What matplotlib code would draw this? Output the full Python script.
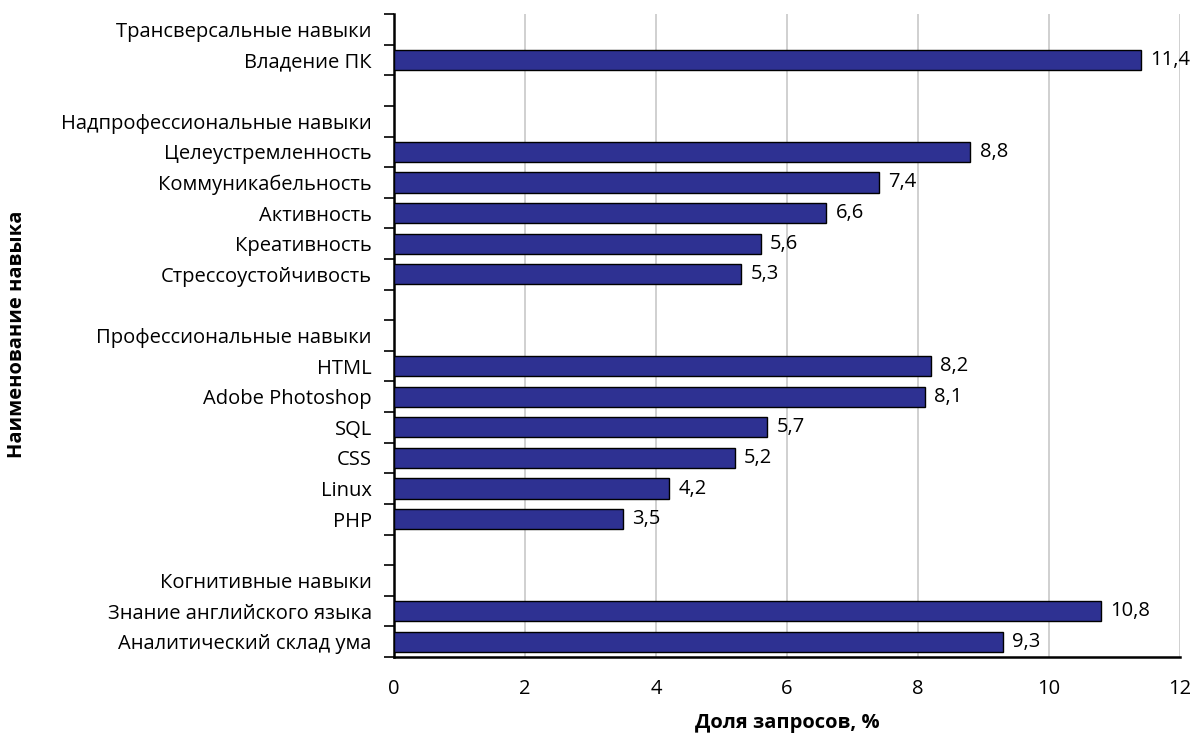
import matplotlib
matplotlib.use("Agg")
import matplotlib.pyplot as plt
import numpy as np

plt.rcParams['font.family'] = ['Open Sans', 'DejaVu Sans']

# rows from top to bottom; None marks a group header or spacer row
labels = [
    "Трансверсальные навыки", "Владение ПК", "",
    "Надпрофессиональные навыки", "Целеустремленность", "Коммуникабельность",
    "Активность", "Креативность", "Стрессоустойчивость", "",
    "Профессиональные навыки", "HTML", "Adobe Photoshop", "SQL", "CSS",
    "Linux", "PHP", "",
    "Когнитивные навыки", "Знание английского языка", "Аналитический склад ума",
]
values = [
    None, 11.4, None,
    None, 8.8, 7.4, 6.6, 5.6, 5.3, None,
    None, 8.2, 8.1, 5.7, 5.2, 4.2, 3.5, None,
    None, 10.8, 9.3,
]
xticks = [0, 2, 4, 6, 8, 10, 12]

fs = 14.5

fig = plt.figure(figsize=(11.92, 7.39), dpi=100)
ax = fig.add_axes([0.3305, 0.111, 0.6595, 0.870])

n = len(labels)
ypos = np.arange(n)
for y, v in zip(ypos, values):
    if v is None:
        continue
    ax.barh(y, v, height=0.66, color="#2E3192", edgecolor="black",
            linewidth=1.0, zorder=3)
    ax.text(v + 0.14, y, f"{v:.1f}".replace(".", ","), va="center",
            ha="left", fontsize=fs, zorder=4)

ax.set_ylim(n - 0.5, -0.5)
ax.set_xlim(0, 12)
ax.set_xticks(xticks)
ax.set_xticklabels([str(t) for t in xticks], fontsize=fs)
ax.tick_params(axis="x", length=0, pad=16)

ax.set_yticks(ypos)
ax.set_yticklabels(labels, fontsize=fs)
ax.tick_params(axis="y", which="major", length=0, pad=16)
ax.set_yticks(np.arange(n + 1) - 0.5, minor=True)
ax.tick_params(axis="y", which="minor", length=7, width=1.2, direction="out")

ax.grid(axis="x", color="#c8c8c8", linewidth=1.2, zorder=0)
ax.set_axisbelow(True)
for s in ("top", "right"):
    ax.spines[s].set_visible(False)
ax.spines["left"].set_linewidth(1.8)
ax.spines["bottom"].set_linewidth(1.8)

ax.set_xlabel("Доля запросов, %", fontsize=fs, fontweight="bold", labelpad=10)
fig.text(0.014, 0.547, "Наименование навыка", rotation=90, va="center",
         ha="center", fontsize=fs, fontweight="bold")

fig.savefig("out.png", dpi=100)
